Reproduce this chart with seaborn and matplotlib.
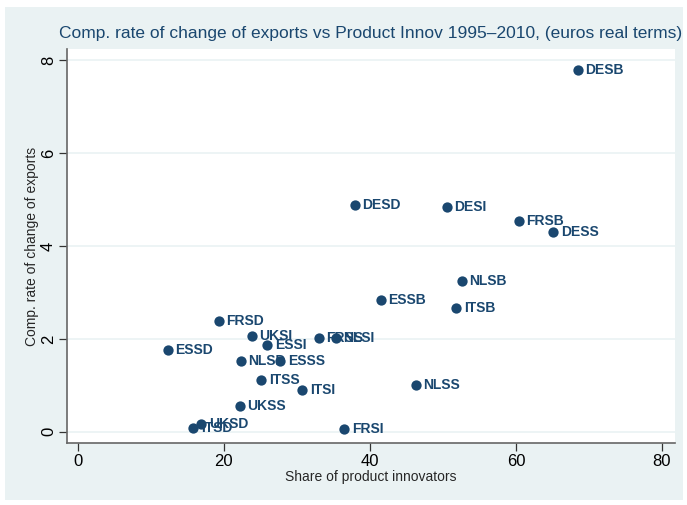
import matplotlib
matplotlib.use("Agg")
import matplotlib.pyplot as plt
from matplotlib.patches import Rectangle
import seaborn as sns
import pandas as pd

labels = ["DESB", "DESD", "DESI", "FRSB", "DESS", "NLSB", "ESSB", "ITSB",
          "FRSD", "UKSI", "FRSS", "NLSI", "ESSD", "ESSI", "NLSD", "ESSS",
          "ITSS", "ITSI", "NLSS", "UKSS", "FRSI", "ITSD", "UKSD"]
share = [68.5, 37.9, 50.5, 60.4, 65.1, 52.6, 41.5, 51.8,
         19.3, 23.8, 33.0, 35.3, 12.3, 25.9, 22.3, 27.7,
         25.1, 30.7, 46.3, 22.2, 36.5, 15.8, 16.9]
rate = [7.78, 4.88, 4.84, 4.54, 4.30, 3.25, 2.84, 2.67,
        2.39, 2.06, 2.02, 2.02, 1.76, 1.87, 1.53, 1.53,
        1.12, 0.90, 1.01, 0.56, 0.07, 0.09, 0.17]
xticks = [0, 20, 40, 60, 80]
yticks = [0, 2, 4, 6, 8]

df = pd.DataFrame({"share": share, "rate": rate, "label": labels})

navy = "#1A476F"
bg = "#EAF2F3"

sns.set_style("white")
plt.rcParams["font.family"] = ["Liberation Sans", "DejaVu Sans"]

fig = plt.figure(figsize=(6.87, 5.05), dpi=100)
fig.patches.append(Rectangle((5 / 687, 5 / 505), 678 / 687, 493 / 505,
                             transform=fig.transFigure, facecolor=bg,
                             edgecolor="none", zorder=-10))
ax = fig.add_axes([67 / 687, 62 / 505, 608 / 687, 394 / 505])
ax.set_facecolor("white")

sns.scatterplot(data=df, x="share", y="rate", ax=ax, color=navy, s=55,
                edgecolor=navy, linewidth=0, zorder=3)
for _, r in df.iterrows():
    ax.annotate(r["label"], (r["share"], r["rate"]), xytext=(5.5, 0),
                textcoords="offset points", va="center", ha="left",
                fontsize=10, fontweight="bold", color=navy, zorder=4)

ax.set_xlim(-1.5, 81.8)
ax.set_ylim(-0.24, 8.24)
ax.set_xticks(xticks)
ax.set_yticks(yticks)
ax.set_yticklabels([str(t) for t in yticks], rotation=90, va="center")
ax.tick_params(axis="both", length=6, width=0.9, color="#333333",
               labelsize=12, labelcolor="black", pad=2, direction="out")
ax.tick_params(axis="both", which="both", bottom=True, left=True)
for t in yticks:
    ax.axhline(t, color=bg, linewidth=1.2, zorder=1)
for side in ["top", "right"]:
    ax.spines[side].set_visible(False)
for side in ["left", "bottom"]:
    ax.spines[side].set_color("#666666")
    ax.spines[side].set_linewidth(1.2)

ax.set_xlabel("Share of product innovators", fontsize=10, labelpad=1)
ax.set_ylabel("Comp. rate of change of exports", fontsize=10, labelpad=1)
ax.set_title("Comp. rate of change of exports vs Product Innov 1995\u20132010, (euros real terms)",
             fontsize=12.5, color=navy, pad=8)

fig.savefig("out.png", dpi=100, facecolor="white")
